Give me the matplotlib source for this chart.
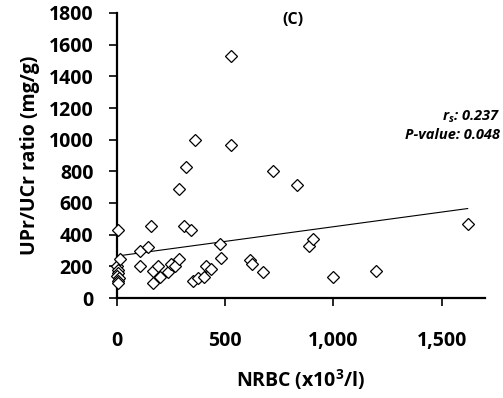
import numpy as np
import matplotlib
matplotlib.use("Agg")
import matplotlib.pyplot as plt

plt.rcParams['font.family'] = ['Open Sans', 'DejaVu Sans']
plt.rcParams['mathtext.fontset'] = 'custom'
plt.rcParams['mathtext.bf'] = 'Open Sans:bold'
plt.rcParams['mathtext.it'] = 'Open Sans:bold:italic'

# NRBC (x10^3/l) vs UPr/UCr ratio (mg/g)
nrbc = [0, 3, 6, 2, 10, 6, 4, 3, 14,
        106, 106, 143, 157, 165, 165, 190, 200, 235, 250, 270, 287,
        287, 310, 317, 340, 350, 360, 375, 400, 410, 435, 475, 480,
        525, 525, 615, 625, 675, 720, 830, 885, 905, 1000, 1195, 1620]
upr_ucr = [205, 175, 160, 140, 125, 110, 95, 430, 245,
           295, 200, 325, 455, 170, 95, 205, 130, 165, 215, 200, 245,
           688, 452, 828, 432, 110, 1000, 125, 135, 205, 185, 338, 255,
           1530, 965, 240, 215, 163, 800, 712, 330, 375, 135, 170, 465]

# trend line endpoints as drawn in the reference
trend_x = [0, 1620]
trend_y = [265, 565]

x_ticks = [0, 500, 1000, 1500]
x_ticklabels = ['0', '500', '1,000', '1,500']
y_ticks = list(range(0, 1801, 200))

fig = plt.figure(figsize=(5.03, 3.98), dpi=100)
ax = fig.add_axes([117/503, 100/398, 368/503, 285/398])

ax.plot(nrbc, upr_ucr, linestyle='none', marker='D', markersize=6.2,
        markerfacecolor='white', markeredgecolor='black', markeredgewidth=0.9,
        clip_on=False, zorder=3)
ax.plot(trend_x, trend_y, color='black', linewidth=0.8, zorder=2)

ax.set_xlim(0, 1700)
ax.set_ylim(0, 1800)
ax.set_xticks(x_ticks)
ax.set_xticklabels(x_ticklabels)
ax.set_yticks(y_ticks)

for side in ['top', 'right']:
    ax.spines[side].set_visible(False)
for side in ['left', 'bottom']:
    ax.spines[side].set_linewidth(1.6)

ax.tick_params(axis='both', direction='out', length=6, width=1.2, labelsize=14)
ax.tick_params(axis='x', pad=18)
ax.tick_params(axis='y', pad=11)
for lbl in ax.get_xticklabels() + ax.get_yticklabels():
    lbl.set_fontweight('bold')

ax.set_xlabel('NRBC (x10$^\\mathbf{3}$/l)', fontsize=14, fontweight='bold', labelpad=11)
ax.set_ylabel('UPr/UCr ratio (mg/g)', fontsize=14, fontweight='bold', labelpad=6)

ax.text(293/503, 1 - 20/398, '(C)', transform=fig.transFigure, ha='center', va='center',
        fontsize=11.5, fontweight='bold')
ax.text(500/503, 1 - 117/398, '$r_{s}$: 0.237', transform=fig.transFigure,
        ha='right', va='center', fontsize=10.5, fontweight='bold', style='italic')
ax.text(500/503, 1 - 135/398, 'P-value: 0.048', transform=fig.transFigure,
        ha='right', va='center', fontsize=10.5, fontweight='bold', style='italic')

fig.savefig('out.png', dpi=100)
